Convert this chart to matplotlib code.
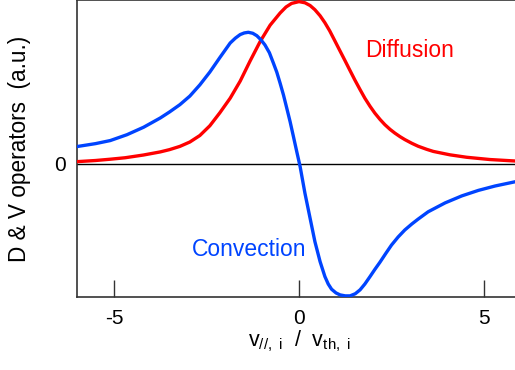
import matplotlib
matplotlib.use('Agg')
import matplotlib.pyplot as plt

plt.rcParams['font.family'] = ['Liberation Sans', 'DejaVu Sans']
plt.rcParams['mathtext.fontset'] = 'custom'
plt.rcParams['mathtext.rm'] = 'Liberation Sans'
plt.rcParams['mathtext.it'] = 'Liberation Sans'

# =====数据
# 扩散算符 D
diff_x = [-6.0, -5.5, -5.1, -4.7, -4.2, -3.75, -3.5, -3.22, -2.95, -2.68, -2.41, -2.14, -1.86, -1.59, -1.32,
          -1.05, -0.78, -0.51, -0.35, -0.2, 0.0, 0.16, 0.3, 0.43, 0.57, 0.7, 0.83, 0.97, 1.1, 1.24, 1.38,
          1.51, 1.65, 1.78, 1.92, 2.05, 2.19, 2.32, 2.46, 2.59, 2.73, 2.86, 3.05, 3.22, 3.45, 3.63, 4.08,
          4.53, 5.16, 5.84, 6.0]
diff_y = [0.014, 0.021, 0.029, 0.038, 0.055, 0.074, 0.088, 0.108, 0.135, 0.175, 0.235, 0.315, 0.405, 0.51, 0.635,
          0.754, 0.855, 0.93, 0.967, 0.989, 1.0, 0.993, 0.976, 0.95, 0.913, 0.87, 0.82, 0.758, 0.70, 0.638, 0.575,
          0.517, 0.458, 0.405, 0.355, 0.313, 0.274, 0.242, 0.213, 0.19, 0.168, 0.15, 0.127, 0.109, 0.09, 0.077,
          0.056, 0.041, 0.027, 0.018, 0.016]
# 对流算符 V
conv_x = [-6.0, -5.5, -5.1, -4.65, -4.2, -3.75, -3.5, -3.22, -2.95, -2.68, -2.41, -2.14, -1.86, -1.72, -1.59,
          -1.48, -1.37, -1.25, -1.14, -1.03, -0.92, -0.8, -0.69, -0.6, -0.51, -0.42, -0.33, -0.24, -0.15, -0.06,
          0.03, 0.16, 0.3, 0.43, 0.57, 0.7, 0.79, 0.88, 1.0, 1.11, 1.25, 1.38, 1.52, 1.65, 1.78, 1.92, 2.05,
          2.19, 2.35, 2.5, 2.68, 2.86, 3.05, 3.22, 3.49, 3.95, 4.4, 4.85, 5.3, 5.84, 6.0]
conv_y = [0.107, 0.125, 0.144, 0.18, 0.226, 0.283, 0.32, 0.365, 0.418, 0.487, 0.566, 0.655, 0.745, 0.775, 0.797,
          0.807, 0.811, 0.805, 0.79, 0.765, 0.733, 0.685, 0.62, 0.565, 0.497, 0.425, 0.343, 0.26, 0.168, 0.075,
          -0.016, -0.18, -0.335, -0.479, -0.602, -0.694, -0.74, -0.772, -0.795, -0.807, -0.813, -0.813, -0.8,
          -0.776, -0.74, -0.694, -0.65, -0.605, -0.55, -0.5, -0.45, -0.407, -0.37, -0.34, -0.295, -0.24, -0.197,
          -0.163, -0.136, -0.11, -0.104]

xticks = [-5, 0, 5]
red = '#ff0000'
blue = '#0044ff'

fig = plt.figure(figsize=(5.15, 3.70), dpi=100)
ax = fig.add_axes([77 / 515, 73 / 370, 444 / 515, 297 / 370])

ax.axhline(0, color='black', lw=1.0, zorder=1)
ax.plot(diff_x, diff_y, color=red, lw=2.4, zorder=3, solid_joinstyle='round')
ax.plot(conv_x, conv_y, color=blue, lw=2.4, zorder=3, solid_joinstyle='round')

ax.set_xlim(-6, 6)
ax.set_ylim(-0.82, 1.01)

ax.set_xticks(xticks)
ax.set_xticklabels([str(t) for t in xticks])
ax.set_yticks([0])
ax.set_yticklabels(['0'])
ax.tick_params(axis='x', direction='in', length=12, width=1.0, color='#333333', labelsize=15, pad=9)
ax.tick_params(axis='y', length=0, labelsize=15, pad=8)

for s in ax.spines.values():
    s.set_color('#333333')
    s.set_linewidth(1.2)

ax.set_ylabel('D & V operators  (a.u.)', fontsize=16.3, labelpad=17)
ax.set_xlabel(r'$\mathregular{v_{//,\ i}\ \ /\ \ v_{th,\ i}}$', fontsize=15.5, labelpad=0)

ax.text(2.99, 0.70, 'Diffusion', color=red, fontsize=16.5, ha='center', va='center')
ax.text(-1.36, -0.53, 'Convection', color=blue, fontsize=16.5, ha='center', va='center')

fig.savefig('out.png', dpi=100)
